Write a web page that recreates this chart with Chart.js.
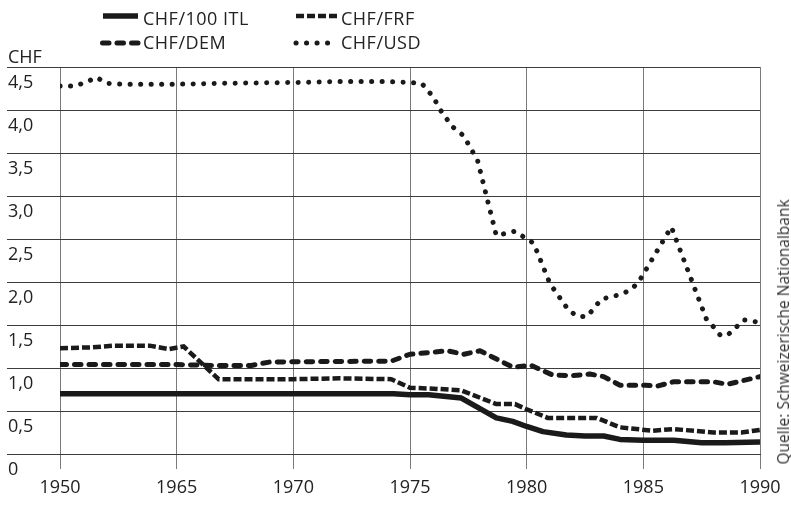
<!DOCTYPE html>
<html>
<head>
<meta charset="utf-8">
<script src="https://cdn.jsdelivr.net/npm/chart.js@4/dist/chart.umd.min.js"></script>
<style>
  html, body { margin: 0; padding: 0; background: #fff; }
  #wrap { position: relative; width: 791px; height: 512px; overflow: hidden; font-family: 'Open Sans', sans-serif; color: #222; }
  #c { position: absolute; left: 0; top: 0; }
  .txt { position: absolute; font-size: 18px; line-height: 20px; white-space: nowrap; letter-spacing: 0.5px; }
  .sw { position: absolute; }
  #src { position: absolute; left: 783px; top: 332px; line-height: 16px; transform: translate(-50%, -50%) rotate(-90deg); font-size: 15.5px; white-space: nowrap; color: #333; }
</style>
</head>
<body>
<div id="wrap">
  <canvas id="c" width="791" height="512"></canvas>
  <svg class="sw" style="left:100px;top:8px" width="45" height="16"><line x1="3" y1="8" x2="38" y2="8" stroke="#1a1a1a" stroke-width="5.5"/></svg>
  <div class="txt" style="left:143px;top:8px">CHF/100 ITL</div>
  <svg class="sw" style="left:296px;top:8px" width="45" height="16"><line x1="0" y1="8" x2="41" y2="8" stroke="#1a1a1a" stroke-width="4.5" stroke-dasharray="8 3"/></svg>
  <div class="txt" style="left:341px;top:8px">CHF/FRF</div>
  <svg class="sw" style="left:98px;top:35px" width="45" height="16"><line x1="4.5" y1="8" x2="40" y2="8" stroke="#1a1a1a" stroke-width="5" stroke-linecap="round" stroke-dasharray="6.5 8"/></svg>
  <div class="txt" style="left:143px;top:32px">CHF/DEM</div>
  <svg class="sw" style="left:293px;top:35px" width="45" height="16"><line x1="3" y1="8" x2="42" y2="8" stroke="#1a1a1a" stroke-width="5" stroke-linecap="round" stroke-dasharray="0.1 10.4"/></svg>
  <div class="txt" style="left:341px;top:32px">CHF/USD</div>
  <div class="txt" style="left:8px;top:46px;letter-spacing:0">CHF</div>
  <div id="src">Quelle: Schweizerische Nationalbank</div>
</div>
<script>
// Axis tick labels
const xTickYears = [1950, 1965, 1970, 1975, 1980, 1985, 1990];
const xTickLabels = ['1950', '1965', '1970', '1975', '1980', '1985', '1990'];
const yTickValues = [0, 0.5, 1.0, 1.5, 2.0, 2.5, 3.0, 3.5, 4.0, 4.5];
const yTickLabels = ['0', '0,5', '1,0', '1,5', '2,0', '2,5', '3,0', '3,5', '4,0', '4,5'];

// CHF/100 ITL
const itlYears = [1950, 1965, 1970, 1974.3, 1975, 1975.8, 1977.2, 1978.7, 1979.4, 1980, 1980.7, 1981.7, 1982.5, 1983.3, 1984, 1985, 1986.3, 1987.5, 1988.5, 1990];
const itlValues = [0.70, 0.70, 0.70, 0.70, 0.69, 0.69, 0.65, 0.42, 0.38, 0.32, 0.26, 0.22, 0.21, 0.21, 0.17, 0.16, 0.16, 0.13, 0.13, 0.14];

// CHF/FRF
const frfYears = [1950, 1954, 1957, 1961.5, 1964, 1965.3, 1966.8, 1970, 1972, 1974.2, 1975, 1976, 1977.2, 1978.7, 1979.5, 1980, 1980.9, 1983, 1984, 1985.4, 1986.3, 1988, 1989.2, 1990];
const frfValues = [1.23, 1.24, 1.26, 1.26, 1.22, 1.25, 0.87, 0.87, 0.88, 0.87, 0.77, 0.76, 0.74, 0.58, 0.58, 0.52, 0.42, 0.42, 0.31, 0.27, 0.29, 0.25, 0.25, 0.28];

// CHF/DEM
const demYears = [1950, 1965, 1966.5, 1968.2, 1969, 1974.2, 1975, 1976.6, 1977.3, 1978, 1979.4, 1980.2, 1981.1, 1981.9, 1982.7, 1983.3, 1984, 1985.1, 1985.6, 1986.3, 1988, 1988.6, 1990];
const demValues = [1.04, 1.04, 1.03, 1.03, 1.07, 1.08, 1.16, 1.20, 1.16, 1.20, 1.01, 1.03, 0.92, 0.91, 0.93, 0.90, 0.80, 0.80, 0.79, 0.84, 0.84, 0.81, 0.90];

// CHF/USD
const usdYears = [1950, 1952, 1953.5, 1954.7, 1956, 1958, 1965, 1967, 1970, 1972, 1974, 1975, 1975.5, 1976, 1976.3, 1976.8, 1977.3, 1977.9, 1978.7, 1979.5, 1979.9, 1980.3, 1981, 1981.8, 1982.2, 1982.6, 1983.2, 1984.1, 1984.5, 1984.8, 1986.2, 1987.7, 1988, 1988.3, 1988.6, 1989, 1989.3, 1990];
const usdValues = [4.28, 4.28, 4.33, 4.38, 4.31, 4.30, 4.30, 4.31, 4.32, 4.33, 4.33, 4.32, 4.31, 4.15, 4.00, 3.81, 3.70, 3.41, 2.54, 2.59, 2.52, 2.45, 1.98, 1.67, 1.60, 1.60, 1.80, 1.86, 1.92, 2.00, 2.64, 1.57, 1.48, 1.38, 1.38, 1.48, 1.56, 1.53];

// The original axis is piecewise: 1950-1965 takes the same width as a 5-year step.
function axisPos(year) {
  for (let i = 1; i < xTickYears.length; i++) {
    if (year <= xTickYears[i]) {
      const a = xTickYears[i - 1], b = xTickYears[i];
      return (i - 1) + (year - a) / (b - a);
    }
  }
  return xTickYears.length - 1;
}
function pts(years, values) { return years.map((y, i) => ({ x: axisPos(y), y: values[i] })); }

const INK = '#1a1a1a';
Chart.defaults.font.family = "'Open Sans', sans-serif";
Chart.defaults.font.size = 18;
Chart.defaults.color = '#222';

new Chart(document.getElementById('c'), {
  type: 'line',
  data: {
    datasets: [
      { label: 'CHF/USD', data: pts(usdYears, usdValues), borderColor: INK, borderWidth: 5, borderDash: [0.1, 10.4], borderCapStyle: 'round', pointRadius: 0, tension: 0, fill: false },
      { label: 'CHF/DEM', data: pts(demYears, demValues), borderColor: INK, borderWidth: 5, borderDash: [6.5, 8], borderCapStyle: 'round', borderJoinStyle: 'round', pointRadius: 0, tension: 0, fill: false },
      { label: 'CHF/FRF', data: pts(frfYears, frfValues), borderColor: INK, borderWidth: 4.5, borderDash: [8, 3], borderCapStyle: 'butt', pointRadius: 0, tension: 0, fill: false },
      { label: 'CHF/100 ITL', data: pts(itlYears, itlValues), borderColor: INK, borderWidth: 5.5, borderJoinStyle: 'round', pointRadius: 0, tension: 0, fill: false }
    ]
  },
  options: {
    responsive: false,
    animation: false,
    layout: { padding: { left: 8, right: 31, top: 67, bottom: 0 } },
    plugins: { legend: { display: false }, tooltip: { enabled: false } },
    scales: {
      x: {
        type: 'linear', min: 0, max: xTickYears.length - 1,
        afterBuildTicks: (s) => { s.ticks = xTickYears.map((_, i) => ({ value: i })); },
        afterFit: (s) => { s.height = 58; },
        ticks: { callback: (v, i) => xTickLabels[i], padding: 8, autoSkip: false, maxRotation: 0, color: '#222' },
        grid: { color: '#7a7a7a', lineWidth: 1, tickLength: 15 },
        border: { color: '#3c3c3c', width: 1 }
      },
      y: {
        min: 0, max: 4.5,
        afterBuildTicks: (s) => { s.ticks = yTickValues.map(v => ({ value: v })); },
        afterFit: (s) => { s.width = 52; },
        ticks: { callback: (v, i) => yTickLabels[i], crossAlign: 'far', labelOffset: 16, padding: 0, color: '#222' },
        grid: { color: '#3c3c3c', lineWidth: 1, tickLength: 53 },
        border: { display: false }
      }
    }
  }
});
</script>
</body>
</html>
